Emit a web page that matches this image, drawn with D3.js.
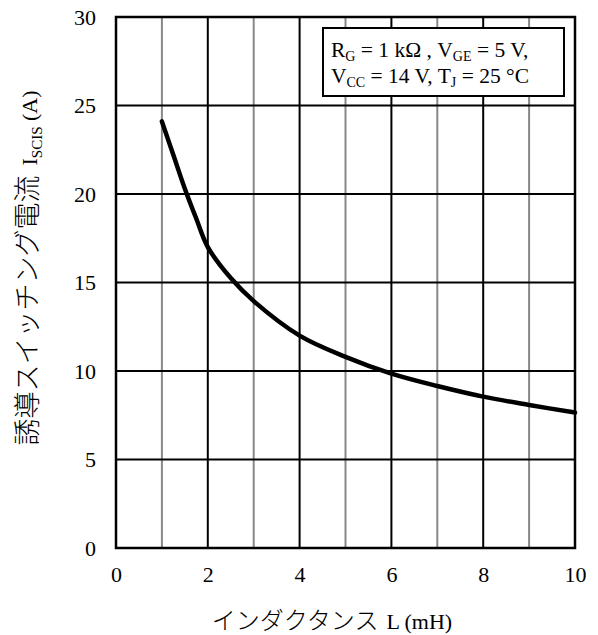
<!DOCTYPE html>
<html>
<head>
<meta charset="utf-8">
<script src="https://cdn.jsdelivr.net/npm/d3@7"></script>
<style>
  body { margin: 0; background: #fff; }
  svg text { font-family: "Liberation Serif", "Times New Roman", "DejaVu Serif", serif; fill: #000; }
  svg text .cjk { font-family: "Noto Sans CJK JP", sans-serif; font-weight: 300; }
</style>
</head>
<body>
<svg id="chart" width="598" height="635"></svg>
<script>
// inductance (mH) vs induced switching current (A)
const inductance = [1, 1.25, 1.5, 1.75, 2, 2.5, 3, 4, 5, 6, 7, 8, 9, 10]
const current = [24.1, 22.2, 20.3, 18.6, 17.0, 15.25, 13.95, 12.0, 10.8, 9.85, 9.15, 8.55, 8.08, 7.65]
const xTicks = [0, 2, 4, 6, 8, 10]
const yTicks = [0, 5, 10, 15, 20, 25, 30]
const xGrid = [1, 2, 3, 4, 5, 6, 7, 8, 9]

const plot = { left: 116, right: 575, top: 17, bottom: 548 }
const serif = '"Liberation Serif", "Times New Roman", "DejaVu Serif", serif'

const svg = d3.select('#chart')

const x = d3.scaleLinear().domain([0, 10]).range([plot.left, plot.right])
const y = d3.scaleLinear().domain([0, 30]).range([plot.bottom, plot.top])

// grid: odd mH lines grey, even ones black
svg.append('g')
    .selectAll('line')
    .data(xGrid)
    .join('line')
    .attr('x1', d => x(d))
    .attr('x2', d => x(d))
    .attr('y1', plot.top)
    .attr('y2', plot.bottom)
    .attr('stroke', d => d % 2 === 0 ? '#000' : '#888')
    .attr('stroke-width', 2)

svg.append('g')
    .selectAll('line')
    .data(yTicks.slice(1, -1))
    .join('line')
    .attr('x1', plot.left)
    .attr('x2', plot.right)
    .attr('y1', d => y(d))
    .attr('y2', d => y(d))
    .attr('stroke', '#000')
    .attr('stroke-width', 2)

// tick labels
const xAxis = svg.append('g')
    .attr('transform', `translate(0,${plot.bottom})`)
    .attr('font-family', serif)
    .call(d3.axisBottom(x).tickValues(xTicks).tickSize(0).tickPadding(18))
xAxis.select('.domain').remove()
xAxis.selectAll('text')
    .attr('font-size', 22)
    .style('font-family', serif)

const yAxis = svg.append('g')
    .attr('transform', `translate(${plot.left},0)`)
    .attr('font-family', serif)
    .call(d3.axisLeft(y).tickValues(yTicks).tickSize(0).tickPadding(20))
yAxis.select('.domain').remove()
yAxis.selectAll('text')
    .attr('font-size', 22)
    .style('font-family', serif)

// curve
const line = d3.line()
    .x((d, i) => x(inductance[i]))
    .y(d => y(d))
    .curve(d3.curveCatmullRom)

svg.append('path')
    .datum(current)
    .attr('d', line)
    .attr('fill', 'none')
    .attr('stroke', '#000')
    .attr('stroke-width', 4.5)
    .attr('stroke-linecap', 'round')

// frame
svg.append('rect')
    .attr('x', plot.left)
    .attr('y', plot.top)
    .attr('width', plot.right - plot.left)
    .attr('height', plot.bottom - plot.top)
    .attr('fill', 'none')
    .attr('stroke', '#000')
    .attr('stroke-width', 2.5)

// conditions box
const box = svg.append('g')
box.append('rect')
    .attr('x', 323)
    .attr('y', 28)
    .attr('width', 241)
    .attr('height', 68)
    .attr('fill', '#fff')
    .attr('stroke', '#000')
    .attr('stroke-width', 2)

const l1 = box.append('text').attr('x', 331).attr('y', 57).attr('font-size', 21.5)
l1.append('tspan').text('R')
l1.append('tspan').attr('font-size', 14).attr('dy', 4).text('G')
l1.append('tspan').attr('dy', -4).text(' = 1 kΩ , V')
l1.append('tspan').attr('font-size', 14).attr('dy', 4).text('GE')
l1.append('tspan').attr('dy', -4).text(' = 5 V,')

const l2 = box.append('text').attr('x', 331).attr('y', 83).attr('font-size', 21.5)
l2.append('tspan').text('V')
l2.append('tspan').attr('font-size', 14).attr('dy', 4).text('CC')
l2.append('tspan').attr('dy', -4).text(' = 14 V, T')
l2.append('tspan').attr('font-size', 14).attr('dy', 4).text('J')
l2.append('tspan').attr('dy', -4).text(' = 25 °C')

// axis titles
const xt = svg.append('text')
    .attr('x', 332)
    .attr('y', 629)
    .attr('text-anchor', 'middle')
    .attr('font-size', 22)
xt.append('tspan').attr('class', 'cjk').attr('font-size', 24).text('インダクタンス')
xt.append('tspan').attr('dx', 8).text('L (mH)')

const yt = svg.append('text')
    .attr('transform', 'translate(37,268) rotate(-90)')
    .attr('text-anchor', 'middle')
    .attr('font-size', 22)
yt.append('tspan').attr('class', 'cjk').attr('font-size', 27).text('誘導スイッチング電流')
yt.append('tspan').attr('dx', 10).text('I')
yt.append('tspan').attr('font-size', 15).attr('dy', 5).text('SCIS')
yt.append('tspan').attr('dy', -5).text(' (A)')
</script>
</body>
</html>
